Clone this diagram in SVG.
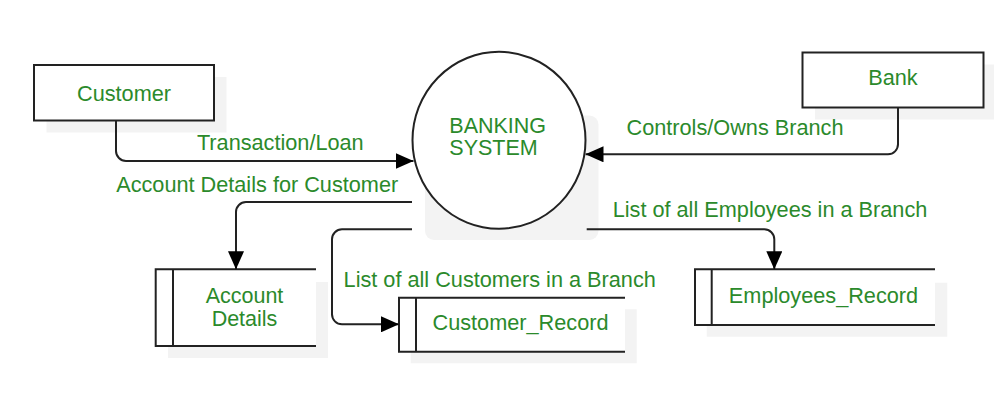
<svg xmlns="http://www.w3.org/2000/svg" width="994" height="412" viewBox="0 0 994 412">
  <style>
    .bg { fill: #ffffff; }
    .shadow { fill: #f3f3f3; }
    .box { fill: #ffffff; stroke: #222222; stroke-width: 2; }
    .store { fill: #ffffff; stroke: none; }
    .storeline { fill: none; stroke: #222222; stroke-width: 2; }
    .edge { fill: none; stroke: #222222; stroke-width: 2; }
    text { font-family: "Liberation Sans", Arial, sans-serif; font-size: 21.7px; fill: #2b8a2b; }
    .mid { text-anchor: middle; }
  </style>
  <defs>
    <marker id="arrow" viewBox="0 0 18 16" refX="18" refY="8" markerWidth="18" markerHeight="16" markerUnits="userSpaceOnUse" orient="auto">
      <path d="M0,0 L18,8 L0,16 z" fill="#000000"/>
    </marker>
  </defs>
  <rect class="bg" x="0" y="0" width="994" height="412"/>

  <g id="customer">
    <rect class="shadow" x="46.5" y="77" width="180" height="55.5"/>
    <rect class="box" x="34" y="65" width="180" height="55.5"/>
    <text class="mid" x="124" y="101">Customer</text>
  </g>

  <g id="bank">
    <rect class="shadow" x="815" y="64.5" width="181" height="55"/>
    <rect class="box" x="802.5" y="52.5" width="181" height="55"/>
    <text class="mid" x="893" y="85">Bank</text>
  </g>

  <g id="banking-system">
    <rect class="shadow" x="425" y="115.5" width="173.5" height="124.5" rx="9"/>
    <ellipse cx="499" cy="140.3" rx="86.5" ry="88.5" fill="#ffffff" stroke="#222222" stroke-width="2"/>
    <text x="449.3" y="132.5" style="font-size:21.5px">BANKING<tspan x="449.3" dy="22.5">SYSTEM</tspan></text>
  </g>

  <g id="account-details">
    <rect class="shadow" x="168" y="282" width="160" height="76"/>
    <rect class="store" x="155.7" y="269.3" width="160.3" height="76.7"/>
    <path class="storeline" d="M316,269.3 H155.7 V346 H316 M173,269.3 V346"/>
    <text class="mid" x="244.5" y="302.5" style="font-size:21.5px">Account<tspan x="244.5" dy="23">Details</tspan></text>
  </g>

  <g id="customer-record">
    <rect class="shadow" x="410.7" y="309.3" width="226" height="54"/>
    <rect class="store" x="399" y="297.7" width="226" height="54"/>
    <path class="storeline" d="M625,297.7 H399 V351.7 H625 M416,297.7 V351.7"/>
    <text class="mid" x="520.5" y="330">Customer_Record</text>
  </g>

  <g id="employees-record">
    <rect class="shadow" x="706.7" y="282.7" width="240.6" height="54"/>
    <rect class="store" x="695" y="269.3" width="240" height="55.7"/>
    <path class="storeline" d="M935,269.3 H695 V325 H935 M711.7,269.3 V325"/>
    <text class="mid" x="823.5" y="303.3">Employees_Record</text>
  </g>

  <g id="connectors">
    <path class="edge" d="M116,120.5 V151 A10,10 0 0 0 126,161 H413.5" marker-end="url(#arrow)"/>
    <path class="edge" d="M898,107.5 V144.3 A10,10 0 0 1 888,154.3 H585.5" marker-end="url(#arrow)"/>
    <path class="edge" d="M412,202 H246 A10,10 0 0 0 236,212 V269.3" marker-end="url(#arrow)"/>
    <path class="edge" d="M412,229.3 H342 A10,10 0 0 0 332,239.3 V314.3 A10,10 0 0 0 342,324.3 H399" marker-end="url(#arrow)"/>
    <path class="edge" d="M586.7,229.3 H764.3 A10,10 0 0 1 774.3,239.3 V269.3" marker-end="url(#arrow)"/>
    <text class="mid" x="280.3" y="150">Transaction/Loan</text>
    <text class="mid" x="257.2" y="191.7">Account Details for Customer</text>
    <text class="mid" x="735" y="135">Controls/Owns Branch</text>
    <text class="mid" x="770" y="216.7">List of all Employees in a Branch</text>
    <text class="mid" x="499.7" y="286.7">List of all Customers in a Branch</text>
  </g>
</svg>
